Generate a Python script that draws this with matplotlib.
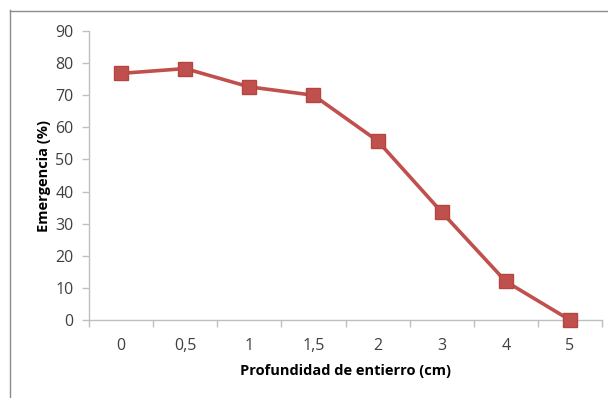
import matplotlib
matplotlib.use("Agg")
import matplotlib.pyplot as plt
from matplotlib.lines import Line2D
import numpy as np

categories = ["0", "0,5", "1", "1,5", "2", "3", "4", "5"]
emergencia = [76.8, 78.3, 72.6, 70.0, 55.8, 33.6, 12.0, 0.0]
yticks = [0, 10, 20, 30, 40, 50, 60, 70, 80, 90]

plt.rcParams['font.family'] = ['Open Sans', 'DejaVu Sans']

fig = plt.figure(figsize=(6.08, 3.98), dpi=100)
ax = fig.add_axes([89/608, 1-320/398, (602-89)/608, (320-31)/398])

x = np.arange(len(categories))
ax.plot(x, emergencia, color="#C0504D", lw=2.6, marker="s", markersize=10.5,
        markerfacecolor="#C0504D", markeredgecolor="#B5463F", clip_on=False, zorder=3)

ax.set_xlim(-0.5, len(categories) - 0.5)
ax.set_ylim(0, 90)
ax.set_yticks(yticks)
ax.set_yticklabels([str(v) for v in yticks])
ax.set_xticks(x)
ax.set_xticklabels(categories)
ax.set_xticks(np.arange(-0.5, len(categories), 1), minor=True)
ax.tick_params(axis='x', which='major', length=0, pad=13, labelsize=11.5, colors="#404040")
ax.tick_params(axis='x', which='minor', length=5, color="#BFBFBF", width=1, direction='out')
ax.tick_params(axis='y', length=5, color="#BFBFBF", width=1, pad=6, labelsize=11.5, labelcolor="#404040")

for s in ["top", "right"]:
    ax.spines[s].set_visible(False)
for s in ["left", "bottom"]:
    ax.spines[s].set_color("#BFBFBF")
    ax.spines[s].set_linewidth(1)

ax.set_xlabel("Profundidad de entierro (cm)", fontsize=10.5, fontweight="bold", labelpad=7, color="#000000")
ax.set_ylabel("Emergencia (%)", fontsize=10.5, fontweight="bold", labelpad=3, color="#000000")

# chart-area border (cropped on right/bottom)
fig.add_artist(Line2D([9.5/608, 9.5/608], [0, 1-10/398], transform=fig.transFigure, color="#8C8C8C", lw=1))
fig.add_artist(Line2D([9.5/608, 1], [1-10.5/398, 1-10.5/398], transform=fig.transFigure, color="#8C8C8C", lw=1))

fig.savefig("out.png", dpi=100)
